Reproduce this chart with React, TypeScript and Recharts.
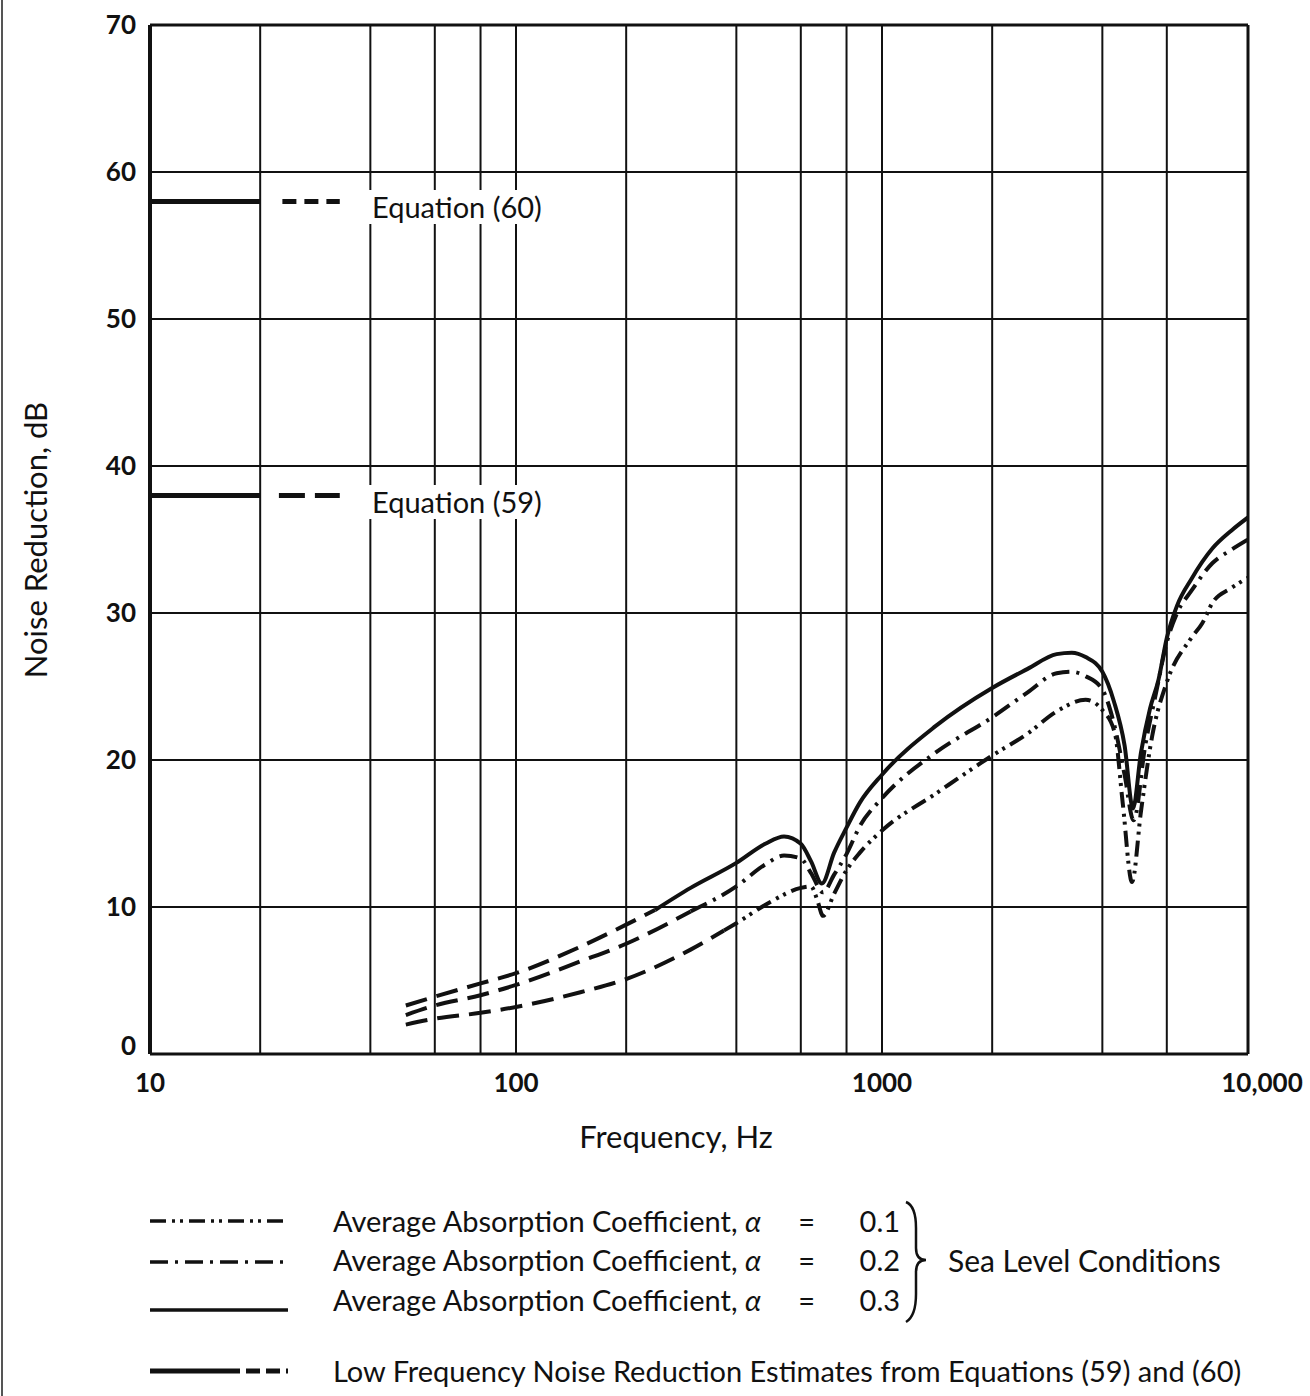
import { LineChart, Line, XAxis, YAxis, CartesianGrid, ReferenceLine } from 'recharts';

// frequency (Hz) / noise reduction (dB) pairs
const lowAlpha03: [number, number][] = [[50, 3.3], [60, 3.9], [80, 4.8], [100, 5.5], [150, 7.3], [200, 8.8], [240, 9.8]];
const lowAlpha02: [number, number][] = [[50, 2.65], [60, 3.3], [80, 4.0], [100, 4.7], [150, 6.3], [200, 7.5], [300, 9.7]];
const lowAlpha01: [number, number][] = [[50, 2.0], [60, 2.4], [80, 2.8], [100, 3.2], [150, 4.2], [200, 5.1], [300, 7.1], [370, 8.4]];

const seaAlpha03: [number, number][] = [
  [240, 9.8], [300, 11.3], [400, 13.0], [480, 14.3], [540, 14.8], [600, 14.3], [640, 13.1], [685, 11.6],
  [740, 13.7], [800, 15.4], [870, 17.1], [1000, 19.0], [1400, 22.3], [2000, 24.9], [2500, 26.2], [3000, 27.2],
  [3300, 27.3], [3600, 27.0], [4000, 26.0], [4300, 24.0], [4600, 21.0], [4850, 16.7], [5100, 20.5], [5400, 23.5],
  [5700, 25.5], [6000, 28.3], [6400, 30.5], [7000, 32.3], [8000, 34.4], [9000, 35.6], [10000, 36.5],
];
const seaAlpha02: [number, number][] = [
  [300, 9.7], [400, 11.4], [480, 12.9], [540, 13.5], [600, 13.3], [640, 12.3], [690, 11.0], [740, 12.2],
  [800, 13.6], [870, 15.5], [1000, 17.4], [1400, 20.5], [2000, 22.9], [2500, 24.6], [3000, 25.9], [3300, 26.0],
  [3600, 25.7], [4000, 24.8], [4300, 22.5], [4600, 19.0], [4870, 15.9], [5240, 21.0], [5600, 24.5], [6000, 28.0],
  [6400, 30.0], [7000, 31.5], [8000, 33.4], [9000, 34.3], [10000, 35.0],
];
const seaAlpha01: [number, number][] = [
  [370, 8.4], [400, 8.9], [500, 10.4], [600, 11.3], [640, 11.4], [665, 10.5], [690, 9.4], [740, 10.9],
  [800, 12.5], [870, 13.7], [1000, 15.2], [1400, 17.7], [2000, 20.3], [2500, 21.8], [3000, 23.3], [3600, 24.1],
  [4000, 23.4], [4330, 21.8], [4550, 17.0], [4820, 11.7], [5100, 16.5], [5470, 21.6], [6000, 25.3], [7000, 28.3],
  [7500, 29.3], [8000, 30.7], [9000, 31.7], [10000, 32.4],
];

// Equation (60) / (59) key marks drawn inside the plot
const eq60Solid: [number, number][] = [[10, 58], [20, 58]];
const eq60Dash: [number, number][] = [[23, 58], [33, 58]];
const eq59Solid: [number, number][] = [[10, 38], [20, 38]];
const eq59Dash: [number, number][] = [[22.5, 38], [33, 38]];

const freqTicks = [10, 20, 40, 60, 80, 100, 200, 400, 600, 800, 1000, 2000, 4000, 6000, 8000, 10000];
const freqLabels: Record<number, string> = { 10: '10', 100: '100', 1000: '1000', 10000: '10,000' };
const dbTicks = [0, 10, 20, 30, 40, 50, 60, 70];

const INK = '#111';
const FONT = 'Lato, "Open Sans", sans-serif';

const toPts = (pairs: [number, number][]) => pairs.map(([f, v]) => ({ f, v }));

const DASH_LOW = '22 10';
const DASH_DOT = '18 7 3 7';
const DASH_DOT_DOT = '16 6 3 5 3 6';

function FreqTick(props: any) {
  const { x, y, payload } = props;
  const label = freqLabels[payload.value];
  if (!label) return <g />;
  const dx = payload.value === 10000 ? 14 : 0;
  return (
    <text x={x + dx} y={y + 28} textAnchor="middle" fill={INK} fontSize={26} fontFamily={FONT} fontWeight={700}>
      {label}
    </text>
  );
}

function DbTick(props: any) {
  const { x, y, payload } = props;
  // the zero label sits a little above the baseline in the original
  const dy = payload.value === 0 ? -8 : 0;
  return (
    <text x={x} y={y + dy} dy="0.35em" textAnchor="end" fill={INK} fontSize={26} fontFamily={FONT} fontWeight={700}>
      {payload.value}
    </text>
  );
}

function Brace() {
  return (
    <svg width={40} height={130} style={{ position: 'absolute', left: 900, top: 1198 }}>
      <path
        d="M6 4 Q16 8 16 30 L16 50 Q16 62 26 62 Q16 62 16 74 L16 96 Q16 118 6 124"
        fill="none"
        stroke={INK}
        strokeWidth={2.5}
      />
    </svg>
  );
}

function LegendSymbol({ dash, top, width = 140 }: { dash?: string; top: number; width?: number }) {
  return (
    <svg width={width + 10} height={12} style={{ position: 'absolute', left: 148, top: top - 6 }}>
      <line x1={2} y1={6} x2={width} y2={6} stroke={INK} strokeWidth={3.5} strokeDasharray={dash} />
    </svg>
  );
}

const textStyle = {
  position: 'absolute' as const,
  fontFamily: FONT,
  fontSize: 29,
  color: INK,
  whiteSpace: 'pre' as const,
  lineHeight: '34px',
};

export default function App() {
  return (
    <div style={{ position: 'absolute', left: 0, top: 0, width: 1310, height: 1396, background: '#fff', overflow: 'hidden' }}>
      <div style={{ position: 'absolute', left: 1, top: 0, width: 2, height: 1396, background: '#555' }} />
      <div style={{ position: 'absolute', left: 0, top: 0 }}>
        <LineChart width={1310} height={1110} margin={{ top: 25, right: 62, left: 90, bottom: 16 }}>
          <CartesianGrid stroke={INK} strokeWidth={2} />
          <XAxis
            dataKey="f"
            type="number"
            scale="log"
            domain={[10, 10000]}
            ticks={freqTicks}
            allowDataOverflow
            height={40}
            tickLine={false}
            tickMargin={4}
            axisLine={{ stroke: INK, strokeWidth: 3 }}
            tick={<FreqTick />}
          />
          <YAxis
            type="number"
            domain={[0, 70]}
            ticks={dbTicks}
            width={60}
            tickLine={false}
            tickMargin={8}
            axisLine={{ stroke: INK, strokeWidth: 4 }}
            tick={<DbTick />}
          />
          <ReferenceLine y={70} stroke={INK} strokeWidth={3} />
          <ReferenceLine x={10000} stroke={INK} strokeWidth={3} />

          <Line data={toPts(eq60Solid)} dataKey="v" stroke={INK} strokeWidth={5} dot={false} isAnimationActive={false} />
          <Line data={toPts(eq60Dash)} dataKey="v" stroke={INK} strokeWidth={5} strokeDasharray="14 8" dot={false} isAnimationActive={false} />
          <Line data={toPts(eq59Solid)} dataKey="v" stroke={INK} strokeWidth={5} dot={false} isAnimationActive={false} />
          <Line data={toPts(eq59Dash)} dataKey="v" stroke={INK} strokeWidth={5} strokeDasharray="26 10" dot={false} isAnimationActive={false} />

          <Line data={toPts(lowAlpha03)} dataKey="v" type="monotone" stroke={INK} strokeWidth={4} strokeDasharray={DASH_LOW} dot={false} isAnimationActive={false} />
          <Line data={toPts(lowAlpha02)} dataKey="v" type="monotone" stroke={INK} strokeWidth={4} strokeDasharray={DASH_LOW} dot={false} isAnimationActive={false} />
          <Line data={toPts(lowAlpha01)} dataKey="v" type="monotone" stroke={INK} strokeWidth={4} strokeDasharray={DASH_LOW} dot={false} isAnimationActive={false} />

          <Line data={toPts(seaAlpha03)} dataKey="v" type="monotone" stroke={INK} strokeWidth={4} dot={false} isAnimationActive={false} />
          <Line data={toPts(seaAlpha02)} dataKey="v" type="monotone" stroke={INK} strokeWidth={4} strokeDasharray={DASH_DOT} dot={false} isAnimationActive={false} />
          <Line data={toPts(seaAlpha01)} dataKey="v" type="monotone" stroke={INK} strokeWidth={4} strokeDasharray={DASH_DOT_DOT} dot={false} isAnimationActive={false} />
        </LineChart>
      </div>

      <div style={{ ...textStyle, left: 366, top: 190, background: '#fff', padding: '0 6px' }}>Equation (60)</div>
      <div style={{ ...textStyle, left: 366, top: 485, background: '#fff', padding: '0 6px' }}>Equation (59)</div>

      <div
        style={{
          ...textStyle,
          fontSize: 31,
          left: 35,
          top: 540,
          transform: 'translate(-50%, -50%) rotate(-90deg)',
        }}
      >
        Noise Reduction, dB
      </div>
      <div style={{ ...textStyle, fontSize: 31, left: 676, top: 1136, transform: 'translate(-50%, -50%)' }}>Frequency, Hz</div>

      <LegendSymbol dash={DASH_DOT_DOT} top={1221} />
      <LegendSymbol dash={DASH_DOT} top={1262} />
      <LegendSymbol top={1310} />
      <svg width={150} height={14} style={{ position: 'absolute', left: 148, top: 1364 }}>
        <line x1={2} y1={7} x2={92} y2={7} stroke={INK} strokeWidth={5} />
        <line x1={98} y1={7} x2={140} y2={7} stroke={INK} strokeWidth={5} strokeDasharray="14 6" />
      </svg>

      <div style={{ ...textStyle, left: 333, top: 1204 }}>Average Absorption Coefficient, <i>α</i>     =      0.1</div>
      <div style={{ ...textStyle, left: 333, top: 1243 }}>Average Absorption Coefficient, <i>α</i>     =      0.2</div>
      <div style={{ ...textStyle, left: 333, top: 1283 }}>Average Absorption Coefficient, <i>α</i>     =      0.3</div>
      <Brace />
      <div style={{ ...textStyle, fontSize: 30, left: 948, top: 1243 }}>Sea Level Conditions</div>
      <div style={{ ...textStyle, left: 333, top: 1354 }}>Low Frequency Noise Reduction Estimates from Equations (59) and (60)</div>
    </div>
  );
}
